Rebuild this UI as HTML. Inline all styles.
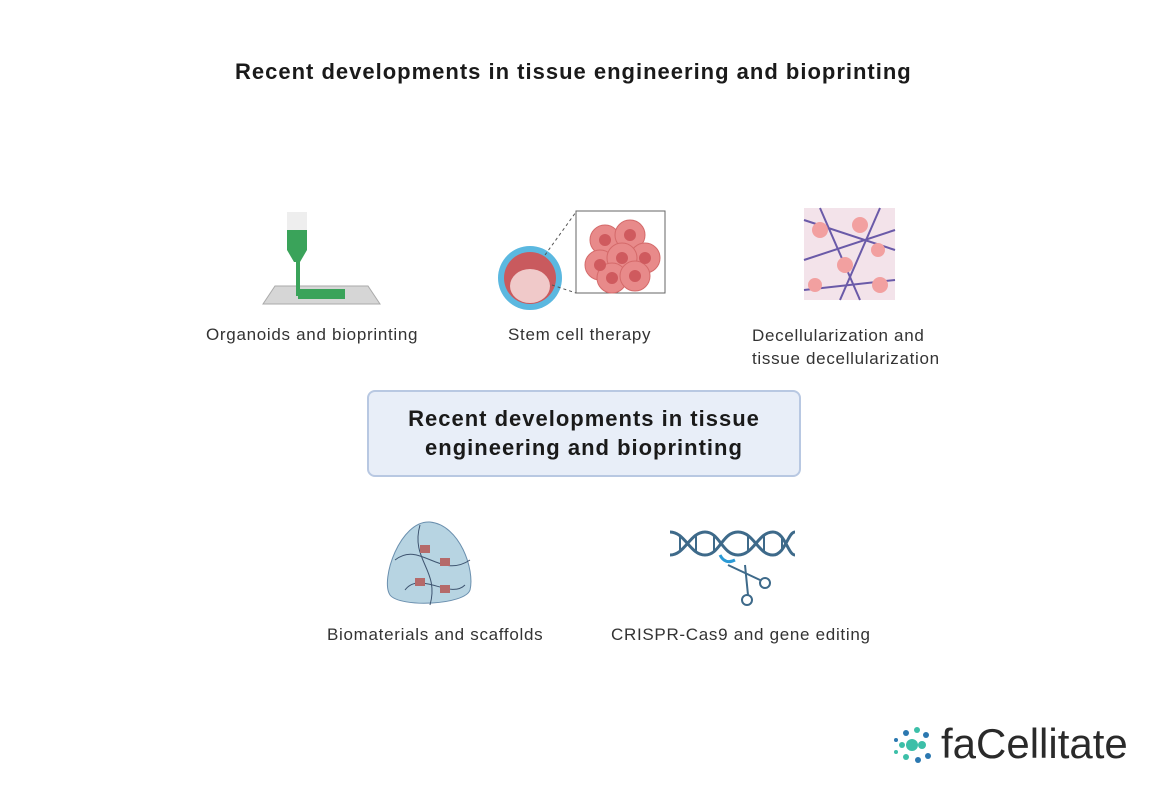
<!DOCTYPE html>
<html><head><meta charset="utf-8"><style>
body{margin:0;width:1152px;height:786px;background:#fff;position:relative;overflow:hidden;font-family:"Liberation Sans",sans-serif;color:#222}
.t{position:absolute;white-space:nowrap}
.lbl{font-size:17px;letter-spacing:0.7px;color:#333}
</style></head><body>
<div class="t" style="left:235px;top:59px;font-size:22px;letter-spacing:1px;font-weight:bold;color:#1a1a1a">Recent developments in tissue engineering and bioprinting</div>

<svg style="position:absolute;left:0;top:0" width="1152" height="786">
<!-- bioprinter -->
<polygon points="275,286 368,286 380,304 263,304" fill="#d6d6d6" stroke="#aaa"/>
<rect x="287" y="212" width="20" height="20" fill="#eee"/>
<path d="M287,230 h20 v20 l-7,12 h-6 l-7,-12z" fill="#3aa35a"/>
<rect x="296" y="260" width="4" height="36" fill="#3aa35a"/>
<rect x="298" y="289" width="47" height="10" fill="#3aa35a"/>
<!-- stem cell -->
<circle cx="530" cy="278" r="32" fill="#5bb8e0"/>
<circle cx="530" cy="278" r="26" fill="#c95a5e"/>
<ellipse cx="530" cy="286" rx="20" ry="17" fill="#f0c9c9"/>
<line x1="545" y1="255" x2="576" y2="212" stroke="#555" stroke-dasharray="3,3"/>
<line x1="552" y1="285" x2="576" y2="293" stroke="#555" stroke-dasharray="3,3"/>
<rect x="576" y="211" width="89" height="82" fill="#fff" stroke="#666"/>
<g fill="#e88a8a" stroke="#d46a6a">
<circle cx="605" cy="240" r="15"/><circle cx="630" cy="235" r="15"/><circle cx="645" cy="258" r="15"/>
<circle cx="600" cy="265" r="15"/><circle cx="622" cy="258" r="15"/><circle cx="612" cy="278" r="15"/><circle cx="635" cy="276" r="15"/></g>
<g fill="#cf5a5e"><circle cx="605" cy="240" r="6"/><circle cx="630" cy="235" r="6"/><circle cx="645" cy="258" r="6"/><circle cx="600" cy="265" r="6"/><circle cx="622" cy="258" r="6"/><circle cx="612" cy="278" r="6"/><circle cx="635" cy="276" r="6"/></g>
<!-- decell -->
<rect x="804" y="208" width="91" height="92" fill="#f3e3ea"/>
<g stroke="#6a5aa8" stroke-width="2" fill="none">
<path d="M804,220 L895,250"/><path d="M804,260 L895,230"/><path d="M820,208 L860,300"/><path d="M880,208 L840,300"/><path d="M804,290 L895,280"/></g>
<g fill="#f2a0a0"><circle cx="820" cy="230" r="8"/><circle cx="860" cy="225" r="8"/><circle cx="845" cy="265" r="8"/><circle cx="880" cy="285" r="8"/><circle cx="815" cy="285" r="7"/><circle cx="878" cy="250" r="7"/></g>
<!-- scaffold -->
<path d="M430,522 C460,525 475,570 470,590 C465,605 400,608 390,595 C380,580 400,520 430,522Z" fill="#b7d4e2" stroke="#6a8fae"/>
<g stroke="#3e5470" fill="none"><path d="M395,560 C420,540 440,580 470,560"/><path d="M405,590 C420,570 450,600 465,585"/><path d="M420,525 C410,560 440,570 430,605"/></g>
<g fill="#b56a6a"><rect x="420" y="545" width="10" height="8"/><rect x="440" y="558" width="10" height="8"/><rect x="415" y="578" width="10" height="8"/><rect x="440" y="585" width="10" height="8"/></g>
<!-- DNA -->
<g stroke="#3e6a8a" stroke-width="3" fill="none">
<path d="M670,532 C685,532 690,555 705,555 C720,555 722,532 738,532 C754,532 758,555 773,555 C785,555 788,532 795,532"/>
<path d="M670,555 C685,555 690,532 705,532 C720,532 722,555 738,555 C754,555 758,532 773,532 C785,532 788,555 795,555"/></g>
<g stroke="#3e6a8a" stroke-width="2"><line x1="680" y1="536" x2="680" y2="551"/><line x1="696" y1="536" x2="696" y2="551"/><line x1="714" y1="536" x2="714" y2="551"/><line x1="748" y1="536" x2="748" y2="551"/><line x1="764" y1="536" x2="764" y2="551"/><line x1="782" y1="536" x2="782" y2="551"/></g>
<path d="M720,555 q5,10 15,5" stroke="#2a9ad6" stroke-width="3" fill="none"/>
<g stroke="#3e6a8a" stroke-width="2" fill="none"><line x1="728" y1="565" x2="760" y2="580"/><line x1="745" y1="565" x2="748" y2="595"/><circle cx="765" cy="583" r="5"/><circle cx="747" cy="600" r="5"/></g>
<!-- logo -->
<g><circle cx="912" cy="745" r="6" fill="#3cbfa8"/><circle cx="902" cy="745" r="3" fill="#3cbfa8"/><circle cx="922" cy="745" r="4" fill="#3cbfa8"/>
<circle cx="906" cy="733" r="3" fill="#2b78b0"/><circle cx="917" cy="730" r="3" fill="#3cbfa8"/><circle cx="926" cy="735" r="3" fill="#2b78b0"/>
<circle cx="906" cy="757" r="3" fill="#3cbfa8"/><circle cx="918" cy="760" r="3" fill="#2b78b0"/><circle cx="928" cy="756" r="3" fill="#2b78b0"/><circle cx="896" cy="740" r="2" fill="#2b78b0"/><circle cx="896" cy="752" r="2" fill="#3cbfa8"/></g>
</svg>

<div class="t lbl" style="left:206px;top:325px">Organoids and bioprinting</div>
<div class="t lbl" style="left:508px;top:325px">Stem cell therapy</div>
<div class="t lbl" style="left:752px;top:324px;line-height:23px">Decellularization and<br>tissue decellularization</div>

<div style="position:absolute;left:367px;top:390px;width:434px;height:87px;box-sizing:border-box;background:#e8eef8;border:2px solid #b8c8e2;border-radius:8px;text-align:center;font-size:22px;letter-spacing:1px;font-weight:bold;line-height:29px;padding-top:12px;color:#1a1a1a">Recent developments in tissue<br>engineering and bioprinting</div>

<div class="t lbl" style="left:327px;top:625px">Biomaterials and scaffolds</div>
<div class="t lbl" style="left:611px;top:625px">CRISPR-Cas9 and gene editing</div>

<div class="t" style="left:941px;top:720px;font-size:42px;color:#2a2a2a">faCellitate</div>
</body></html>
